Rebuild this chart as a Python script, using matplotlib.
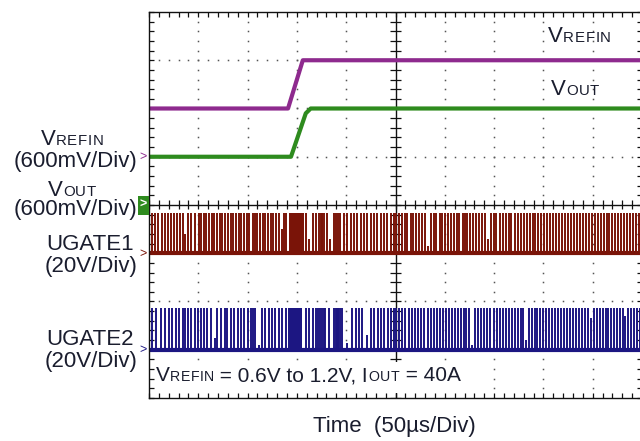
import matplotlib
matplotlib.use('Agg')
import matplotlib.pyplot as plt
from matplotlib.patches import Rectangle
from matplotlib.collections import LineCollection

W, H = 640, 441

# ---------------- scope settings ----------------
TIME_PER_DIV = 50.0      # us / div
N_XDIV, N_YDIV = 10, 8
vref_scale = 0.6         # V/div
vout_scale = 0.6
gate_scale = 20.0        # V/div

# ground reference levels (divisions from screen centre)
vref_ground = 1.0
vout_ground = 0.0
ug1_ground = -1.0
ug2_ground = -3.0

# ---------------- data ----------------
vref_t = [0, 141, 156, 500]
vref_v = [0.6, 0.6, 1.2, 1.2]

vout_t = [0, 144, 159, 164, 500]
vout_v = [0.6, 0.6, 1.14, 1.2, 1.2]

ug1_peak = 16.5
ug1_t = [3, 6, 9, 13, 16, 19, 22, 25, 28, 31, 34, 37, 40, 43, 47, 51, 53, 56, 58, 61,
         64, 66, 69, 72, 74, 77, 80, 83, 85, 88, 91, 93, 96, 99, 101, 105, 107, 110, 113,
         116, 118, 121, 124, 126, 129, 132, 135, 137, 139,
         159, 162, 166, 169, 172, 174, 177, 181, 184, 188, 190, 192, 194, 198, 201, 205,
         208, 211, 215, 218, 221, 225, 228, 231, 235, 238, 241, 245, 248,
         251, 254, 257, 260, 262, 266, 268, 271, 274, 277, 280, 283, 286, 289, 291, 295,
         297, 300, 303, 306, 309, 312, 314, 318, 320, 323, 326, 329, 332, 335, 338, 341,
         344, 347, 350, 352, 356, 359, 362, 365, 367, 371, 374, 377, 380, 383, 386, 389,
         391, 395, 398, 401, 404, 407, 410, 413, 416, 419, 422, 425, 428, 431, 434, 437,
         440, 443, 446, 449, 452, 455, 458, 461, 464, 467, 470, 473, 476, 479, 482, 485,
         488, 491, 494, 497]
ug1_short = {37: 8, 135: 10, 162: 6, 184: 6, 283: 3, 344: 6}
ug1_bursts = [(142, 157), (174, 176)]

ug2_peak = 17.5
ug2_t = [3, 7, 12, 16, 20, 23, 27, 30, 34, 37, 40, 43, 47, 50, 53, 56, 59, 63, 67, 69,
         73, 77, 79, 83, 86, 90, 93, 96, 100, 103, 105, 108, 112, 115, 118, 122, 125, 128,
         132, 135, 139,
         159, 162, 166, 169, 171, 173, 175, 177, 179, 183, 188, 190, 192, 194, 196, 201,
         206, 210, 213, 216, 221, 225, 228, 232, 235, 238, 242, 245, 248,
         251, 254, 257, 260, 264, 267, 270, 273, 276, 279, 283, 286, 289, 292, 295, 298,
         301, 304, 307, 310, 313, 316, 319, 322, 325, 328, 331, 334, 337, 340, 343, 346,
         350, 353, 356, 359, 362, 365, 368, 371, 374, 377, 379, 382, 385, 388, 391, 394,
         397, 400, 403, 406, 409, 412, 415, 418, 421, 424, 427, 430, 433, 436, 439, 442,
         445, 448, 451, 454, 457, 460, 463, 466, 469, 472, 475, 478, 481, 483, 486, 489,
         492, 495, 498]
ug2_short = {67: 5, 112: 2, 201: 3, 221: 6, 328: 2, 382: 4, 448: 13, 483: 14}
ug2_bursts = [(141, 155), (190, 193)]

# ---------------- style ----------------
C_VREF = '#8E2A8E'
C_VOUT = '#2E8B1E'
C_UG1 = '#7A1408'
C_UG2 = '#1C1682'
C_TXT = '#1a1d2e'
C_GRID = '#555555'
FONT = 'Liberation Sans'
BIG, SMALL = 16.0, 10.8

plt.rcParams['font.family'] = [FONT, 'DejaVu Sans']

fig = plt.figure(figsize=(W / 100, H / 100), dpi=100)
fig.patch.set_facecolor('white')

# plot area in pixels: left 149, right 642 (off-canvas), top 12, bottom 398
L, R, T, B = 149, 642, 12, 398
ax = fig.add_axes([L / W, 1 - B / H, (R - L) / W, (B - T) / H])
xmax = TIME_PER_DIV * N_XDIV
ax.set_xlim(0, xmax)
ax.set_ylim(-N_YDIV / 2, N_YDIV / 2)
ax.set_facecolor('white')
for s in ax.spines.values():
    s.set_color('#111111')
    s.set_linewidth(1.0)
    s.set_zorder(6)

px_x = xmax / (R - L)          # data units per pixel (x)
px_y = N_YDIV / (B - T)        # data units per pixel (y)

# edge ticks (inward) every 0.2 div
minor_x = [i * TIME_PER_DIV / 5 for i in range(N_XDIV * 5 + 1)]
minor_y = [-N_YDIV / 2 + i * 0.2 for i in range(N_YDIV * 5 + 1)]
ax.set_xticks(minor_x)
ax.set_yticks(minor_y)
ax.tick_params(direction='in', length=3.8, width=0.9, color='#111111',
               top=True, right=True, labelbottom=False, labelleft=False)

# dotted graticule
dots_x, dots_y = [], []
for i in range(1, N_XDIV):
    if i == N_XDIV // 2:
        continue
    for y in minor_y:
        dots_x.append(i * TIME_PER_DIV)
        dots_y.append(y)
for j in range(-N_YDIV // 2 + 1, N_YDIV // 2):
    if j == 0:
        continue
    for x in minor_x:
        dots_x.append(x)
        dots_y.append(j)
ax.plot(dots_x, dots_y, ls='none', marker='s', ms=1.1, mew=0, color=C_GRID, zorder=1)

# central axes with ticks
ax.axhline(0, color='#111111', lw=1.0, zorder=1)
ax.axvline(xmax / 2, color='#111111', lw=1.0, zorder=1)
segs = []
for x in minor_x:
    segs.append([(x, -4.5 * px_y), (x, 4.5 * px_y)])
for y in minor_y:
    segs.append([(xmax / 2 - 5.5 * px_x, y), (xmax / 2 + 5.5 * px_x, y)])
ax.add_collection(LineCollection(segs, colors='#111111', linewidths=0.9, zorder=1))

# ---------------- traces ----------------
def gate(times, shorts, bursts, peak, ground, color):
    lines = []
    for t in times:
        v = shorts.get(t, peak)
        lines.append([(t, ground), (t, ground + v / gate_scale)])
    ax.add_collection(LineCollection(lines, colors=color, linewidths=1.4, zorder=3))
    for a, b in bursts:
        ax.fill_between([a, b], ground, ground + peak / gate_scale, color=color,
                        lw=0, zorder=3)
    ax.plot([0, xmax], [ground, ground], color=color, lw=3.0, zorder=3,
            solid_capstyle='butt')

gate(ug1_t, ug1_short, ug1_bursts, ug1_peak, ug1_ground, C_UG1)
gate(ug2_t, ug2_short, ug2_bursts, ug2_peak, ug2_ground, C_UG2)

ax.plot(vref_t, [vref_ground + v / vref_scale for v in vref_v], color=C_VREF, lw=3.0,
        zorder=4, solid_joinstyle='round')
ax.plot(vout_t, [vout_ground + v / vout_scale for v in vout_v], color=C_VOUT, lw=3.0,
        zorder=4, solid_joinstyle='round')

# ---------------- text ----------------
fig.canvas.draw()
rend = fig.canvas.get_renderer()


def compose(x, y, parts, ha='left', color=C_TXT):
    """parts: list of (string, size, tracking_px). x,y in pixels (baseline from top)."""
    items = []
    for s, sz, tr in parts:
        chunks = list(s) if tr else [s]
        for c in chunks:
            t = fig.text(0, 0, c, fontsize=sz, color=color, va='baseline', ha='left',
                         zorder=8)
            w = t.get_window_extent(rend).width
            if c == ' ':
                w = sz * 100 / 72 * 0.278
            items.append((t, w + tr))
    total = sum(w for _, w in items) - (parts[-1][2] if parts[-1][2] else 0)
    if ha == 'center':
        x0 = x - total / 2
    elif ha == 'right':
        x0 = x - total
    else:
        x0 = x
    start = x0
    for a, w in items:
        a.set_position((x0 / W, 1 - y / H))
        x0 += w
    return start, total


# left labels
compose(72, 145, [('V', BIG, 0), ('REFIN', SMALL, 0.8)], ha='center')
compose(137, 167, [('(600mV/Div)', BIG, 0)], ha='right')
compose(72, 196, [('V', BIG, 0), ('OUT', SMALL, 0.8)], ha='center')
compose(137, 215, [('(600mV/Div)', BIG, 0)], ha='right')
compose(90, 250, [('UGATE1', BIG, 0)], ha='center')
compose(137, 272, [('(20V/Div)', BIG, 0)], ha='right')
compose(90, 345, [('UGATE2', BIG, 0)], ha='center')
compose(137, 367, [('(20V/Div)', BIG, 0)], ha='right')

# right labels
compose(548, 42, [('V', BIG, 0), ('REFIN', SMALL, 0.8)])
compose(551, 95, [('V', BIG, 0), ('OUT', SMALL, 0.8)])

# condition annotation on a white patch
fig.patches.append(Rectangle((155 / W, 1 - 393 / H), 315 / W, 31 / H,
                             transform=fig.transFigure, facecolor='white',
                             edgecolor='none', zorder=7))
compose(156, 381, [('V', 15, 0), ('REFIN', 10.2, 0.5), (' = 0.6V to 1.2V, I', 15, 0),
                   ('OUT', 10.2, 0.5), (' = 40A', 15, 0)])

# x label
compose(394, 432, [('Time  (50µs/Div)', BIG, 0)], ha='center')

# channel markers
def chevron(y, color):
    fig.text(139 / W, 1 - y / H, '>', fontsize=9, color=color, ha='left', va='center')

chevron(157, C_VREF)
chevron(254, C_UG1)
chevron(350, C_UG2)
fig.patches.append(Rectangle((138 / W, 1 - 215 / H), 11 / W, 19 / H,
                             transform=fig.transFigure, facecolor=C_VOUT,
                             edgecolor='none', zorder=9))
fig.text(140 / W, 1 - 205 / H, '>', fontsize=9, color='white', ha='left',
         va='center', fontweight='bold', zorder=10)

fig.savefig('out.png', dpi=100, facecolor='white')
